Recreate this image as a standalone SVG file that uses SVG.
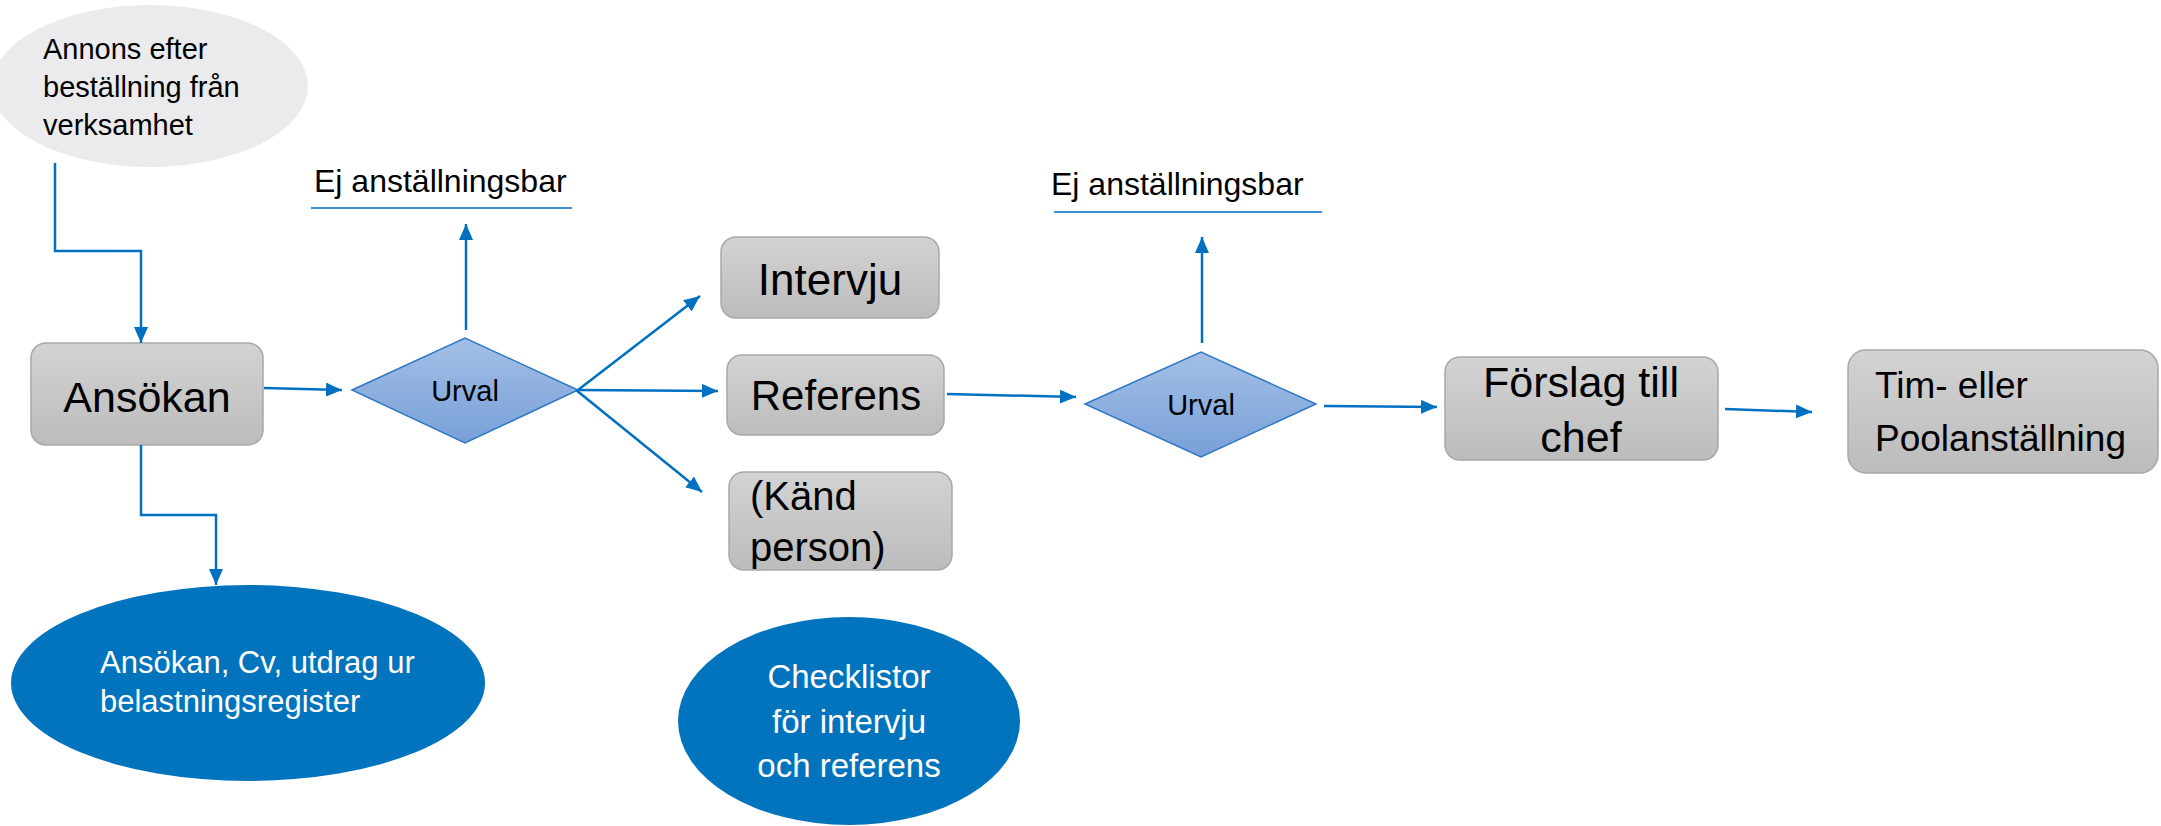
<svg xmlns="http://www.w3.org/2000/svg" width="2161" height="826" viewBox="0 0 2161 826">
<defs>
<linearGradient id="gBox" x1="0" y1="0" x2="0" y2="1"><stop offset="0" stop-color="#d3d3d3"/><stop offset="1" stop-color="#bcbcbc"/></linearGradient>
<linearGradient id="gDia" x1="0" y1="0" x2="0" y2="1"><stop offset="0" stop-color="#a3bfe6"/><stop offset="1" stop-color="#78a0d8"/></linearGradient>
<marker id="ah" viewBox="0 0 16 14" refX="16" refY="7" markerWidth="16" markerHeight="14" markerUnits="userSpaceOnUse" orient="auto"><path d="M0,0 L16,7 L0,14 z" fill="#0070c0"/></marker>
<clipPath id="kandClip"><rect x="729" y="472" width="223" height="98" rx="15"/></clipPath>
<style>
text{font-family:"Liberation Sans",Arial,sans-serif;fill:#000}
.box{fill:url(#gBox);stroke:#a8a8a8;stroke-width:1.5}
.dia{fill:url(#gDia);stroke:#2f78c4;stroke-width:1.5}
.con{fill:none;stroke:#0070c0;stroke-width:2.5;marker-end:url(#ah)}
.ul{stroke:#3a8fd0;stroke-width:2}
.wt{fill:#fff}
</style>
</defs>

<g id="annons">
<ellipse cx="150" cy="86" rx="158" ry="81" fill="#ebebed"/>
<text x="43" y="59" font-size="29">Annons efter</text>
<text x="43" y="97" font-size="29">beställning från</text>
<text x="43" y="135" font-size="29">verksamhet</text>
</g>

<g id="ej1">
<text x="314" y="192" font-size="32">Ej anställningsbar</text>
<line class="ul" x1="311" y1="208" x2="572" y2="208"/>
</g>

<g id="ej2">
<text x="1051" y="195" font-size="32">Ej anställningsbar</text>
<line class="ul" x1="1054" y1="212" x2="1322" y2="212"/>
</g>

<g id="ansokan">
<rect class="box" x="31" y="343" width="232" height="102" rx="15"/>
<text x="147" y="412" font-size="43" text-anchor="middle">Ansökan</text>
</g>

<g id="urval1">
<polygon class="dia" points="352,390 465,338 578,390 465,443"/>
<text x="465" y="401" font-size="29" text-anchor="middle">Urval</text>
</g>

<g id="intervju">
<rect class="box" x="721" y="237" width="218" height="81" rx="15"/>
<text x="830" y="295" font-size="44" text-anchor="middle">Intervju</text>
</g>

<g id="referens">
<rect class="box" x="727" y="355" width="217" height="80" rx="15"/>
<text x="836" y="410" font-size="42" text-anchor="middle">Referens</text>
</g>

<g id="kand">
<rect class="box" x="729" y="472" width="223" height="98" rx="15"/>
<g clip-path="url(#kandClip)">
<text x="750" y="510" font-size="40">(Känd</text>
<text x="750" y="561" font-size="40">person)</text>
</g>
</g>

<g id="urval2">
<polygon class="dia" points="1085,404 1201,352 1316,404 1201,457"/>
<text x="1201" y="415" font-size="29" text-anchor="middle">Urval</text>
</g>

<g id="forslag">
<rect class="box" x="1445" y="357" width="273" height="103" rx="15"/>
<text x="1581" y="397" font-size="43" text-anchor="middle">Förslag till</text>
<text x="1581" y="452" font-size="43" text-anchor="middle">chef</text>
</g>

<g id="tim">
<rect class="box" x="1848" y="350" width="310" height="123" rx="18"/>
<text x="1875" y="398" font-size="37">Tim- eller</text>
<text x="1875" y="451" font-size="37">Poolanställning</text>
</g>

<g id="dokument">
<ellipse cx="248" cy="683" rx="237" ry="98" fill="#0273bd"/>
<text class="wt" x="100" y="673" font-size="31">Ansökan, Cv, utdrag ur</text>
<text class="wt" x="100" y="712" font-size="31">belastningsregister</text>
</g>

<g id="checklistor">
<ellipse cx="849" cy="721" rx="171" ry="104" fill="#0273bd"/>
<text class="wt" x="849" y="688" font-size="33" text-anchor="middle">Checklistor</text>
<text class="wt" x="849" y="733" font-size="33" text-anchor="middle">för intervju</text>
<text class="wt" x="849" y="777" font-size="33" text-anchor="middle">och referens</text>
</g>

<g id="connectors">
<polyline class="con" points="55,163 55,251 141,251 141,343"/>
<line class="con" x1="264" y1="388" x2="342" y2="390"/>
<line class="con" x1="466" y1="330" x2="466" y2="224"/>
<line class="con" x1="578" y1="390" x2="700" y2="296"/>
<line class="con" x1="578" y1="390" x2="718" y2="391"/>
<line class="con" x1="576" y1="390" x2="702" y2="492"/>
<polyline class="con" points="141,445 141,515 216,515 216,585"/>
<line class="con" x1="947" y1="394" x2="1076" y2="397"/>
<line class="con" x1="1202" y1="343" x2="1202" y2="237"/>
<line class="con" x1="1324" y1="406" x2="1437" y2="407"/>
<line class="con" x1="1725" y1="409" x2="1812" y2="412"/>
</g>
</svg>
